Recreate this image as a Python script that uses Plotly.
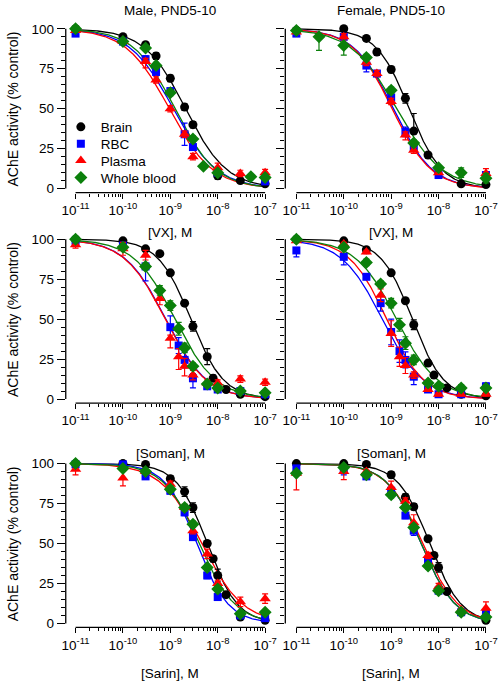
import numpy as np
import plotly.graph_objects as go

W, H = 504, 684
FONT = "Liberation Sans, Arial, Helvetica, sans-serif"

# ---------------- metadata ----------------
series_names = ["Brain", "RBC", "Plasma", "Whole blood"]
series_colors = ["#000000", "#0000ff", "#ff0000", "#0b800b"]
series_symbols = ["circle", "square", "triangle-up", "diamond"]
panel_titles = ["Male, PND5-10", "Female, PND5-10"]
agent_labels = ["[VX], M", "[Soman], M", "[Sarin], M"]
y_title = "AChE activity (% control)"
x_tick_vals = [1e-11, 1e-10, 1e-9, 1e-8, 1e-7]
x_tick_text = ["10<sup>-11</sup>", "10<sup>-10</sup>", "10<sup>-9</sup>", "10<sup>-8</sup>", "10<sup>-7</sup>"]
y_tick_vals = [0, 25, 50, 75, 100]
y_tick_text = ["0", "25", "50", "75", "100"]

# ---------------- data (concentration M, activity %, error up, error down) ----------------
# VX, male
vx_m_conc = [1e-11, 1e-10, 3e-10, 5e-10, 1e-9, 2e-9, 3e-9, 5e-9, 1e-8, 3e-8, 5e-8, 1e-7]
vx_m_brain = [100, 95, 90, 83, 69, 51, 40, None, 8, 5, None, 3]
vx_m_brain_eu = [0, 0, 1, 2, 2, 2, 2, 0, 2, 1, 0, 1]
vx_m_brain_ed = [0, 0, 1, 2, 2, 2, 2, 0, 2, 1, 0, 1]
vx_m_rbc = [97, 92, 81, 73, 61, 34, 26, None, 10, None, None, 4.5]
vx_m_rbc_eu = [1, 1, 2, 2, 2, 7, 2, 0, 2, 0, 0, 1]
vx_m_rbc_ed = [1, 1, 2, 2, 2, 7, 2, 0, 2, 0, 0, 1]
vx_m_plasma = [99, 92, 79.5, 68, 50, 34, 20, None, 13, 9.5, None, 10]
vx_m_plasma_eu = [0, 1, 2, 2, 2, 2, 2, 0, 3, 2, 0, 2]
vx_m_plasma_ed = [0, 1, 4, 2, 2, 2, 2, 0, 3, 2, 0, 2]
vx_m_wb = [100, 92, 88, 77, 60, None, 31, 14, 10, None, 7.5, 7]
vx_m_wb_eu = [0, 1, 1, 2, 2, 0, 2, 1, 1, 0, 1, 1]
vx_m_wb_ed = [0, 1, 1, 2, 2, 0, 2, 1, 1, 0, 1, 1]

# VX, female
vx_f_conc = [1e-11, 3e-11, 1e-10, 3e-10, 5e-10, 1e-9, 2e-9, 3e-9, 6e-9, 1e-8, 3e-8, 1e-7]
vx_f_brain = [99, None, 100, 94, 85.5, 74.5, 56.5, 36, 21, None, 3, 2.5]
vx_f_brain_eu = [0, 0, 1, 1, 2, 2, 3, 11, 1, 0, 1, 1]
vx_f_brain_ed = [0, 0, 1, 1, 2, 2, 3, 0, 1, 0, 1, 1]
vx_f_rbc = [97, None, 95, 77, 72, 57, 35.5, 26, None, 8.5, None, 8.5]
vx_f_rbc_eu = [1, 0, 1, 1, 1, 2, 3, 2, 0, 1, 0, 2]
vx_f_rbc_ed = [1, 0, 1, 4, 1, 2, 3, 2, 0, 1, 0, 2]
vx_f_plasma = [98, None, 95, 79, 72, 54.5, 33.5, 24, None, 10, None, 9.5]
vx_f_plasma_eu = [1, 0, 2, 2, 2, 2, 2, 2, 0, 1, 0, 3]
vx_f_plasma_ed = [1, 0, 2, 2, 2, 2, 3, 2, 0, 1, 0, 3]
vx_f_wb = [99, 95, 89.5, 82, None, 61.5, None, 28.5, None, 13, 10, 6.5]
vx_f_wb_eu = [0, 0, 0, 2, 0, 2, 0, 2, 0, 1, 3, 3]
vx_f_wb_ed = [0, 8.5, 6, 2, 0, 2, 0, 2, 0, 1, 3, 3]

# Soman, male
so_m_conc = [1e-11, 1e-10, 3e-10, 6e-10, 1e-9, 1.5e-9, 2e-9, 3e-9, 6e-9, 8e-9, 1e-8, 1.5e-8, 3e-8, 1e-7]
so_m_brain = [100, 99, 94, 91, 79, None, 60, 45.5, 26.5, 13, None, 6, 3, 1.5]
so_m_brain_eu = [0, 1, 1, 1, 1, 0, 1, 3, 5, 2, 0, 1, 0, 0]
so_m_brain_ed = [0, 1, 1, 1, 1, 0, 1, 3, 5, 2, 0, 1, 0, 0]
so_m_rbc = [99, 96, 83, None, 45, 33.5, 24.5, 13, 8, None, 6, None, 5, 3]
so_m_rbc_eu = [1, 2, 7, 0, 7, 5, 5, 3, 2, 0, 1, 0, 1, 1]
so_m_rbc_ed = [1, 2, 9, 0, 7, 5, 5, 6, 2, 0, 1, 0, 1, 1]
so_m_plasma = [96.5, 94, 90, 63, 38, 26.5, 20.5, 15, 10, None, 10, None, 12.5, 10.5]
so_m_plasma_eu = [2, 4, 3, 4, 2, 5, 5, 3, 2, 0, 2, 0, 2, 2]
so_m_plasma_ed = [2, 4, 3, 4, 6, 8, 6, 3, 2, 0, 2, 0, 2, 2]
so_m_wb = [100, 95, 83, 68, 58.5, 44, 32, 20.5, 9.5, None, 7, None, 5, 4]
so_m_wb_eu = [0, 2, 2, 3, 3, 4, 3, 2, 1, 0, 1, 0, 1, 1]
so_m_wb_ed = [0, 2, 2, 3, 3, 4, 3, 2, 1, 0, 1, 0, 1, 1]

# Soman, female
so_f_conc = [1e-11, 1e-10, 3e-10, 6e-10, 1e-9, 1.5e-9, 2e-9, 3e-9, 6e-9, 8e-9, 1e-8, 1.5e-8, 3e-8, 1e-7]
so_f_brain = [100, 99, 93.5, None, 79, None, 61.5, 46.5, 22.5, 15, None, 7, 3, 2]
so_f_brain_eu = [0, 1, 1, 0, 1, 0, 1, 3, 1, 1, 0, 1, 0, 0]
so_f_brain_ed = [0, 1, 1, 0, 1, 0, 1, 3, 1, 1, 0, 1, 0, 0]
so_f_rbc = [93, 89, 76.5, 60, 42, 30, 24.5, 14, 6, None, 3, None, 3, 8]
so_f_rbc_eu = [0, 0, 1, 5, 8, 7, 5, 2, 1, 0, 1, 0, 1, 2]
so_f_rbc_ed = [4, 5, 1, 5, 8, 7, 5, 5, 1, 0, 1, 0, 1, 2]
so_f_plasma = [99, 97, 92, 65, 41, 26.5, 21, 15, 6, None, 3, None, 3, 3]
so_f_plasma_eu = [0, 1, 1, 4, 8, 6, 5, 2, 1, 0, 1, 0, 1, 1]
so_f_plasma_ed = [0, 1, 1, 4, 8, 6, 5, 2, 1, 0, 1, 0, 1, 1]
so_f_wb = [100, 95, 85.5, 72, 60, 46.5, 35, 24.5, 10, None, 8, None, 7, 7]
so_f_wb_eu = [0, 1, 2, 2, 3, 4, 4, 3, 1, 0, 1, 0, 2, 2]
so_f_wb_ed = [0, 1, 2, 2, 3, 4, 4, 3, 1, 0, 1, 0, 2, 2]

# Sarin, male
sa_m_conc = [1e-11, 1e-10, 3e-10, 1e-9, 2e-9, 3e-9, 6e-9, 8e-9, 1e-8, 1.5e-8, 3e-8, 1e-7]
sa_m_brain = [100, 100, 99.5, 90.5, 82.5, 72.5, 50, 40.5, 30, 18, 4, 2]
sa_m_brain_eu = [0, 0, 1, 2, 3, 3, 1, 2, 4, 1, 1, 0]
sa_m_brain_ed = [0, 0, 1, 2, 3, 3, 1, 2, 4, 1, 1, 0]
sa_m_rbc = [99.5, 99.5, 92, 83, 69.5, 54, 30, None, 16.5, None, 5, 3.3]
sa_m_rbc_eu = [1, 1, 1, 2, 2, 2, 2, 0, 2, 0, 1, 1]
sa_m_rbc_ed = [1, 1, 1, 2, 2, 2, 2, 0, 2, 0, 1, 1]
sa_m_plasma = [96.5, 91, 95, 87, 72.5, 58, 43.5, None, 25, None, 13.5, 15.5]
sa_m_plasma_eu = [0, 0, 1, 2, 2, 2, 3, 0, 2, 0, 3, 3]
sa_m_plasma_ed = [3.5, 5, 1, 2, 2, 2, 3, 0, 2, 0, 3, 3]
sa_m_wb = [100, 97, 95, 84, 72.5, 62, 35, None, 21.5, None, 6, 7]
sa_m_wb_eu = [0, 1, 1, 2, 2, 2, 2, 0, 2, 0, 1, 1]
sa_m_wb_ed = [0, 1, 1, 2, 2, 2, 2, 0, 2, 0, 1, 1]

# Sarin, female
sa_f_conc = [1e-11, 1e-10, 3e-10, 1e-9, 2e-9, 3e-9, 6e-9, 8e-9, 1e-8, 1.5e-8, 3e-8, 1e-7]
sa_f_brain = [100, 100, 99.5, 93, 79, 73, 53, 42.5, 35, 20, 7, 2]
sa_f_brain_eu = [0, 0, 1, 2, 2, 2, 1, 1, 3, 1, 1, 0]
sa_f_brain_ed = [0, 0, 1, 2, 2, 2, 1, 1, 3, 1, 1, 0]
sa_f_rbc = [97, 96, 92, 83, 67.5, 58, 39, None, 20.5, None, 7, 6]
sa_f_rbc_eu = [1, 1, 1, 2, 2, 3, 2, 0, 2, 0, 1, 1]
sa_f_rbc_ed = [1, 3, 1, 2, 2, 3, 2, 0, 2, 0, 1, 1]
sa_f_plasma = [94, 95, 95, 85, 76.5, 63, 42.5, None, 23, None, 8.5, 9.5]
sa_f_plasma_eu = [1, 1, 1, 4, 2, 5, 2, 0, 2, 0, 1, 4]
sa_f_plasma_ed = [10.5, 5, 1, 4, 2, 5, 2, 0, 2, 0, 1, 4]
sa_f_wb = [94, 97.5, 93, 80.5, 72.5, 60, 36, None, 20.5, None, 7, 4]
sa_f_wb_eu = [1, 1, 1, 2, 2, 2, 2, 0, 2, 0, 1, 1]
sa_f_wb_ed = [1, 1, 1, 2, 2, 2, 2, 0, 2, 0, 1, 1]

# fitted curve parameters (IC50 in M, Hill slope), order: Brain, RBC, Plasma, WB
vx_m_ic50 = [2.1e-9, 1.15e-9, 0.95e-9, 1.25e-9]
vx_m_hill = [1.0, 0.95, 0.95, 1.0]
vx_f_ic50 = [2.4e-9, 1.1e-9, 1.05e-9, 1.3e-9]
vx_f_hill = [1.25, 1.05, 1.05, 0.9]
so_m_ic50 = [2.7e-9, 8.0e-10, 7.8e-10, 1.25e-9]
so_m_hill = [1.25, 1.0, 1.0, 1.0]
so_f_ic50 = [2.8e-9, 6.5e-10, 8.0e-10, 1.3e-9]
so_f_hill = [1.3, 1.0, 1.1, 1.0]
sa_m_ic50 = [6.0e-9, 3.6e-9, 4.6e-9, 4.1e-9]
sa_m_hill = [1.35, 1.3, 1.0, 1.15]
sa_f_ic50 = [6.5e-9, 4.3e-9, 4.6e-9, 4.3e-9]
sa_f_hill = [1.3, 1.2, 1.15, 1.2]

panels = [
    (vx_m_conc, [(vx_m_brain, vx_m_brain_eu, vx_m_brain_ed), (vx_m_rbc, vx_m_rbc_eu, vx_m_rbc_ed),
                 (vx_m_plasma, vx_m_plasma_eu, vx_m_plasma_ed), (vx_m_wb, vx_m_wb_eu, vx_m_wb_ed)], vx_m_ic50, vx_m_hill),
    (vx_f_conc, [(vx_f_brain, vx_f_brain_eu, vx_f_brain_ed), (vx_f_rbc, vx_f_rbc_eu, vx_f_rbc_ed),
                 (vx_f_plasma, vx_f_plasma_eu, vx_f_plasma_ed), (vx_f_wb, vx_f_wb_eu, vx_f_wb_ed)], vx_f_ic50, vx_f_hill),
    (so_m_conc, [(so_m_brain, so_m_brain_eu, so_m_brain_ed), (so_m_rbc, so_m_rbc_eu, so_m_rbc_ed),
                 (so_m_plasma, so_m_plasma_eu, so_m_plasma_ed), (so_m_wb, so_m_wb_eu, so_m_wb_ed)], so_m_ic50, so_m_hill),
    (so_f_conc, [(so_f_brain, so_f_brain_eu, so_f_brain_ed), (so_f_rbc, so_f_rbc_eu, so_f_rbc_ed),
                 (so_f_plasma, so_f_plasma_eu, so_f_plasma_ed), (so_f_wb, so_f_wb_eu, so_f_wb_ed)], so_f_ic50, so_f_hill),
    (sa_m_conc, [(sa_m_brain, sa_m_brain_eu, sa_m_brain_ed), (sa_m_rbc, sa_m_rbc_eu, sa_m_rbc_ed),
                 (sa_m_plasma, sa_m_plasma_eu, sa_m_plasma_ed), (sa_m_wb, sa_m_wb_eu, sa_m_wb_ed)], sa_m_ic50, sa_m_hill),
    (sa_f_conc, [(sa_f_brain, sa_f_brain_eu, sa_f_brain_ed), (sa_f_rbc, sa_f_rbc_eu, sa_f_rbc_ed),
                 (sa_f_plasma, sa_f_plasma_eu, sa_f_plasma_ed), (sa_f_wb, sa_f_wb_eu, sa_f_wb_ed)], sa_f_ic50, sa_f_hill),
]

# ---------------- layout geometry (pixels) ----------------
DEC = 48.35                       # pixels per decade
X11_PX = [73.0, 298.3]            # pixel of 1e-11 per column
LEFT_PX = [63.0, 287.0]           # y-axis line per column
RIGHT_PX = [272.0, 498.0]
ZERO_PX = [189.0, 401.0, 627.0]   # pixel of 0 % per row
PER100 = 161.0
Y_TOP = 104.0
Y_BOT = -4.0 / (PER100 / 100.0)
LEGEND_ROW_PX = [127.0, 144.0, 161.0, 178.0]
legend_ids = ["legend", "legend2", "legend3", "legend4"]

marker_sizes = [9, 8, 10, 10]
fig = go.Figure()
layout = dict(
    width=W, height=H, margin=dict(l=0, r=0, t=0, b=0),
    paper_bgcolor="white", plot_bgcolor="white",
    font=dict(family=FONT, size=13, color="black"),
    showlegend=True,
)
shapes = []
annotations = []

x_minor = [k * 10.0 ** e for e in range(-11, -7) for k in range(2, 10)]
y_minor = [v for v in range(0, 101, 5) if v % 25 != 0]
xfit = np.logspace(-11, -7, 300)

for i, (conc, sers, ic50s, hills) in enumerate(panels):
    r, c = divmod(i, 2)
    n = i + 1
    xa = "x" if n == 1 else f"x{n}"
    ya = "y" if n == 1 else f"y{n}"
    xr = [-11 + (LEFT_PX[c] - X11_PX[c]) / DEC, -11 + (RIGHT_PX[c] - X11_PX[c]) / DEC]
    bot_px = ZERO_PX[r] + 4.0
    top_px = ZERO_PX[r] - PER100 * Y_TOP / 100.0
    layout["xaxis" if n == 1 else f"xaxis{n}"] = dict(
        type="log", range=xr, domain=[LEFT_PX[c] / W, RIGHT_PX[c] / W], anchor=ya,
        showgrid=False, zeroline=False, showline=False,
        tickmode="array", tickvals=x_tick_vals, ticktext=x_tick_text,
        ticks="outside", ticklen=5, tickwidth=1.2, tickcolor="black",
        tickfont=dict(size=13.5, family=FONT, color="black"),
        minor=dict(tickmode="array", tickvals=x_minor, ticks="outside", ticklen=3, tickwidth=1.1, tickcolor="black", showgrid=False),
    )
    layout["yaxis" if n == 1 else f"yaxis{n}"] = dict(
        range=[Y_BOT, Y_TOP], domain=[1 - bot_px / H, 1 - top_px / H], anchor=xa,
        showgrid=False, zeroline=False, showline=False,
        tickmode="array", tickvals=y_tick_vals, ticktext=y_tick_text, showticklabels=(c == 0),
        ticks="outside", ticklen=8, tickwidth=1.2, tickcolor="black",
        tickfont=dict(size=13.5, family=FONT, color="black"),
        minor=dict(tickmode="array", tickvals=y_minor, ticks="outside", ticklen=4, tickwidth=1.1, tickcolor="black", showgrid=False),
    )
    xd = f"{xa} domain"
    yd = f"{ya} domain"
    shapes.append(dict(type="line", xref=xd, x0=0, x1=0, yref=ya, y0=0, y1=100, line=dict(color="black", width=1.3)))
    shapes.append(dict(type="line", xref=xa, x0=1e-11, x1=1e-7, yref=yd, y0=0, y1=0, line=dict(color="black", width=1.3)))

    # fitted curves
    for s in range(4):
        yfit = 100.0 / (1.0 + (xfit / ic50s[s]) ** hills[s])
        fig.add_trace(go.Scatter(x=xfit, y=yfit, mode="lines", xaxis=xa, yaxis=ya,
                                 line=dict(color=series_colors[s], width=1.3), showlegend=False, hoverinfo="skip"))
    # data points
    for s in range(4):
        yv, eu, ed = sers[s]
        xs = [cc for cc, v in zip(conc, yv) if v is not None]
        ys = [v for v in yv if v is not None]
        eus = [e for e, v in zip(eu, yv) if v is not None]
        eds = [e for e, v in zip(ed, yv) if v is not None]
        fig.add_trace(go.Scatter(
            x=xs, y=ys, mode="markers", xaxis=xa, yaxis=ya, name=series_names[s],
            marker=dict(symbol=series_symbols[s], size=marker_sizes[s], color=series_colors[s], line=dict(width=0)),
            error_y=dict(type="data", symmetric=False, array=eus, arrayminus=eds,
                         color=series_colors[s], thickness=1.2, width=3),
            cliponaxis=False, showlegend=(i == 0), legendgroup=series_names[s], legend=legend_ids[s],
        ))

# titles
for c in range(2):
    cx = (X11_PX[c] + X11_PX[c] + 4 * DEC) / 2.0
    annotations.append(dict(text=panel_titles[c], x=cx / W, y=1 - 10 / H, xref="paper", yref="paper",
                            showarrow=False, xanchor="center", yanchor="middle", font=dict(size=13.5)))
xlabel_px = [233.0, 456.0, 677.0]
for r in range(3):
    for c in range(2):
        cx = (X11_PX[c] + X11_PX[c] + 4 * DEC) / 2.0
        annotations.append(dict(text=agent_labels[r], x=cx / W, y=1 - xlabel_px[r] / H, xref="paper", yref="paper",
                                showarrow=False, xanchor="center", yanchor="middle", font=dict(size=13.5)))
    cy = ZERO_PX[r] - PER100 / 2.0
    annotations.append(dict(text=y_title, x=9 / W, y=1 - cy / H, xref="paper", yref="paper", textangle=-90,
                            showarrow=False, xanchor="center", yanchor="middle", font=dict(size=14)))

layout["shapes"] = shapes
layout["annotations"] = annotations
for s, lid in enumerate(legend_ids):
    layout[lid] = dict(x=58 / W, y=1 - LEGEND_ROW_PX[s] / H, xanchor="left", yanchor="middle",
                       bgcolor="rgba(0,0,0,0)", borderwidth=0,
                       font=dict(size=13.5, family=FONT, color="black"), itemwidth=30)
fig.update_layout(**layout)
fig.write_html("out.html", config={"displayModeBar": False},
               post_script="document.body.style.margin='0';document.body.style.overflow='hidden';")
